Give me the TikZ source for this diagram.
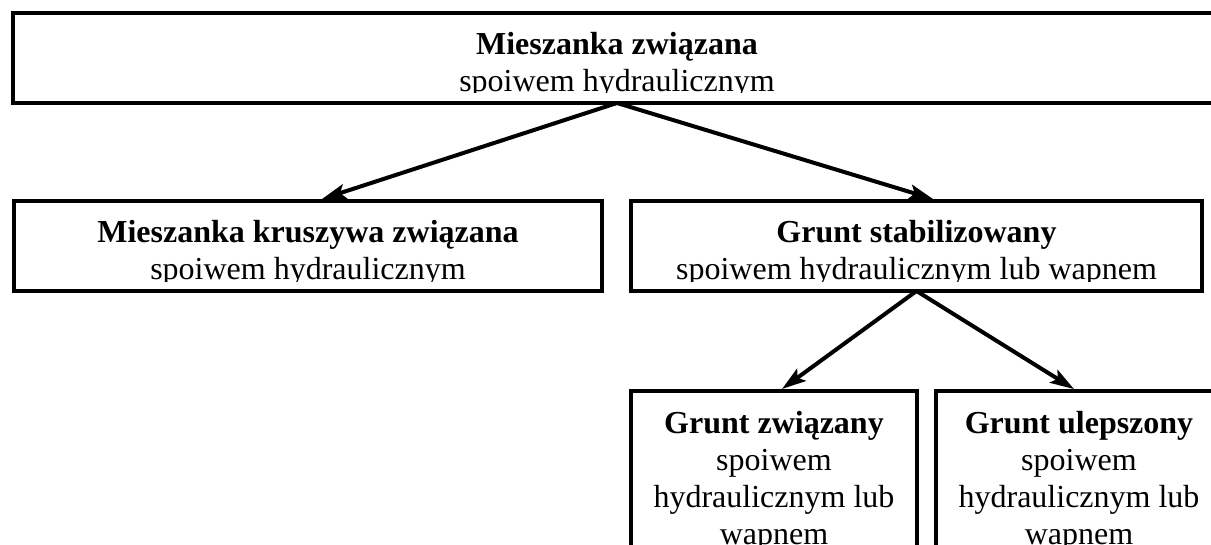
\documentclass[tikz,border=0pt]{standalone}
\usepackage{fontspec}
\setmainfont{Liberation Serif}
\usetikzlibrary{arrows.meta,calc}
\begin{document}
\begin{tikzpicture}[x=1pt,y=-1pt,
  box/.style={draw, line width=4pt, inner sep=0pt, outer sep=0pt},
  txt/.style={anchor=base, inner sep=0pt, font=\fontsize{32}{37}\selectfont},
  btxt/.style={anchor=base, inner sep=0pt, font=\fontsize{32}{37}\selectfont\bfseries},
  arr/.style={line width=4pt, -{Stealth[length=24pt,width=15pt,inset=5pt]}}]
\useasboundingbox (0,0) rectangle (1211,545);
\clip (0,0) rectangle (1211,545);

% boxes
\node[box, minimum width=1208pt, minimum height=90pt] (top) at (617,58) {};
\node[box, minimum width=588pt, minimum height=90pt] (mk) at (308,246) {};
\node[box, minimum width=571pt, minimum height=90pt] (gs) at (916.5,246) {};
\node[box, minimum width=286pt, minimum height=208pt] (gz) at (774,495) {};
\node[box, minimum width=286pt, minimum height=208pt] (gu) at (1079,495) {};

% texts (clipped inside boxes)
\begin{scope}
  \clip (13,13) rectangle (1221,93);
  \node[btxt] (topa) at (617,55) {Mieszanka związana};
  \node[txt] (topb) at (617,92) {spoiwem hydraulicznym};
\end{scope}
\begin{scope}
  \clip (14,201) rectangle (602,282);
  \node[btxt] (mka) at (308,243) {Mieszanka kruszywa związana};
  \node[txt] (mkb) at (308,280) {spoiwem hydraulicznym};
\end{scope}
\begin{scope}
  \clip (631,201) rectangle (1202,282);
  \node[btxt] (gsa) at (916.5,243) {Grunt stabilizowany};
  \node[txt] (gsb) at (916.5,280) {spoiwem hydraulicznym lub wapnem};
\end{scope}
\node[btxt] (gza) at (774,433) {Grunt związany};
\node[txt] (gzb) at (774,470) {spoiwem};
\node[txt] (gzc) at (774,507) {hydraulicznym lub};
\node[txt] (gzd) at (774,544) {wapnem};
\node[btxt] (gua) at (1079,433) {Grunt ulepszony};
\node[txt] (gub) at (1079,470) {spoiwem};
\node[txt] (guc) at (1079,507) {hydraulicznym lub};
\node[txt] (gud) at (1079,544) {wapnem};

% arrow end points
\coordinate (e1) at (322,199);
\coordinate (e2) at (933,199);
\coordinate (e3) at (782,389);
\coordinate (e4) at (1074,389);

\draw[arr] (top.south) -- (e1);
\draw[arr] (top.south) -- (e2);
\draw[arr] (gs.south) -- (e3);
\draw[arr] (gs.south) -- (e4);
\end{tikzpicture}
\end{document}
